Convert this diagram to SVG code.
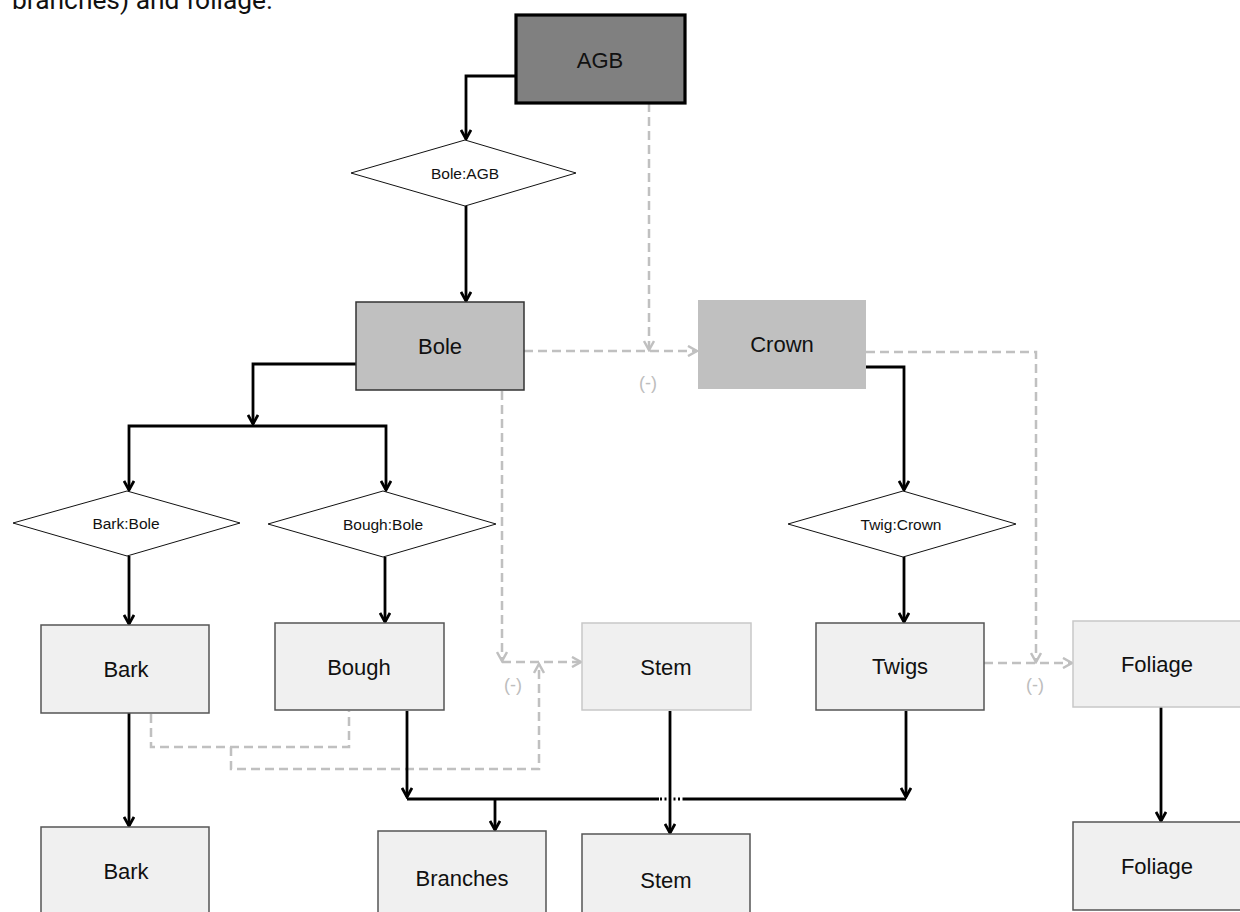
<svg xmlns="http://www.w3.org/2000/svg" width="1240" height="912" viewBox="0 0 1240 912">
<style>
.lbl{font-family:"Liberation Sans",Arial,sans-serif;font-size:22px;fill:#111;text-anchor:middle}
.dl{font-family:"Liberation Sans",Arial,sans-serif;font-size:15.5px;fill:#111;text-anchor:middle}
.neg{font-family:"Liberation Sans",Arial,sans-serif;font-size:18px;fill:#bdbdbd;text-anchor:middle}
.box{fill:#f0f0f0;stroke:#555;stroke-width:1.5}
.boxl{fill:#f0f0f0;stroke:#c8c8c8;stroke-width:1.5}
.dia{fill:#fff;stroke:#111;stroke-width:1}
.s{fill:none;stroke:#000;stroke-width:2.8;marker-end:url(#ab)}
.sn{fill:none;stroke:#000;stroke-width:2.8}
.d{fill:none;stroke:#c0c0c0;stroke-width:2.5;stroke-dasharray:9 5;marker-end:url(#ag)}
.dn{fill:none;stroke:#c0c0c0;stroke-width:2.5;stroke-dasharray:9 5}
</style>
<defs>
<marker id="ab" viewBox="0 0 12 12" refX="10" refY="6" markerWidth="12" markerHeight="12" markerUnits="userSpaceOnUse" orient="auto">
<path d="M1,1 L10,6 L1,11" fill="none" stroke="#000" stroke-width="2.8"/>
</marker>
<marker id="ag" viewBox="0 0 12 12" refX="10" refY="6" markerWidth="12" markerHeight="12" markerUnits="userSpaceOnUse" orient="auto">
<path d="M1,1 L10,6 L1,11" fill="none" stroke="#c0c0c0" stroke-width="2.5"/>
</marker>
</defs>
<rect width="1240" height="912" fill="#fff"/>
<text x="12" y="9" font-family="Roboto,'Liberation Sans',sans-serif" font-size="26" fill="#111" textLength="261" lengthAdjust="spacingAndGlyphs">branches) and foliage.</text>

<g id="connectors">
<path class="s" d="M516,76 H466 V139"/>
<path class="s" d="M466,206 V301"/>
<path class="d" d="M649,103 V350"/>
<path class="d" d="M524,351 H697"/>
<path class="d" d="M866,352 H1036 V662"/>
<path class="s" d="M866,367 H904 V490"/>
<path class="s" d="M904,557 V622"/>
<path class="d" d="M984,663 H1072"/>
<path class="s" d="M1161,707 V821"/>
<path class="s" d="M356,364 H253 V424"/>
<path class="s" d="M257,426 H129 V490"/>
<path class="s" d="M257,426 H386 V490"/>
<path class="s" d="M129,556 V624"/>
<path class="s" d="M385,557 V622"/>
<path class="s" d="M129,713 V826"/>
<path class="dn" d="M151,714 V747 H349 V711"/>
<path class="d" d="M231,747 V769 H539 V664"/>
<path class="d" d="M502,391 V661"/>
<path class="d" d="M502,662 H581"/>
<path class="s" d="M407,711 V797"/>
<path class="s" d="M906,711 V797"/>
<path class="sn" d="M407,799 H659 M683,799 H906" stroke-width="3.4"/>
<path class="sn" d="M660,799 H683" stroke-width="3" stroke-dasharray="2 2.5"/>
<path class="s" d="M495,800 V830"/>
<path class="s" d="M670,711 V833"/>
<text class="neg" x="648" y="389">(-)</text>
<text class="neg" x="513" y="691">(-)</text>
<text class="neg" x="1035" y="691">(-)</text>
</g>

<g id="node-agb">
<rect x="516" y="15" width="169" height="88" fill="#808080" stroke="#000" stroke-width="3.2"/>
<text class="lbl" x="600" y="68">AGB</text>
</g>
<g id="node-bole-agb">
<polygon class="dia" points="351,173 465,140 576,173 465,206"/>
<text class="dl" x="465" y="179">Bole:AGB</text>
</g>
<g id="node-bole">
<rect x="356" y="302" width="168" height="88" fill="#c0c0c0" stroke="#333" stroke-width="1.5"/>
<text class="lbl" x="440" y="354">Bole</text>
</g>
<g id="node-crown">
<rect x="698" y="300" width="168" height="89" fill="#c0c0c0"/>
<text class="lbl" x="782" y="352">Crown</text>
</g>
<g id="node-bark-bole">
<polygon class="dia" points="13,523 127,491 240,523 127,556"/>
<text class="dl" x="126" y="529">Bark:Bole</text>
</g>
<g id="node-bough-bole">
<polygon class="dia" points="268,524 383,491 496,524 383,557"/>
<text class="dl" x="383" y="530">Bough:Bole</text>
</g>
<g id="node-twig-crown">
<polygon class="dia" points="788,524 903,491 1016,524 903,557"/>
<text class="dl" x="901" y="530">Twig:Crown</text>
</g>
<g id="node-bark">
<rect class="box" x="41" y="625" width="168" height="88"/>
<text class="lbl" x="126" y="677">Bark</text>
</g>
<g id="node-bough">
<rect class="box" x="275" y="623" width="169" height="87"/>
<text class="lbl" x="359" y="675">Bough</text>
</g>
<g id="node-stem">
<rect class="boxl" x="582" y="623" width="169" height="87"/>
<text class="lbl" x="666" y="675">Stem</text>
</g>
<g id="node-twigs">
<rect class="box" x="816" y="623" width="168" height="87"/>
<text class="lbl" x="900" y="674">Twigs</text>
</g>
<g id="node-foliage">
<rect class="boxl" x="1073" y="621" width="168" height="86"/>
<text class="lbl" x="1157" y="672">Foliage</text>
</g>
<g id="node-bark-out">
<rect class="box" x="41" y="827" width="168" height="100"/>
<text class="lbl" x="126" y="879">Bark</text>
</g>
<g id="node-branches">
<rect class="box" x="378" y="831" width="168" height="100"/>
<text class="lbl" x="462" y="886">Branches</text>
</g>
<g id="node-stem-out">
<rect class="box" x="582" y="834" width="168" height="100"/>
<text class="lbl" x="666" y="888">Stem</text>
</g>
<g id="node-foliage-out">
<rect class="box" x="1073" y="822" width="168" height="88"/>
<text class="lbl" x="1157" y="874">Foliage</text>
</g>
</svg>
